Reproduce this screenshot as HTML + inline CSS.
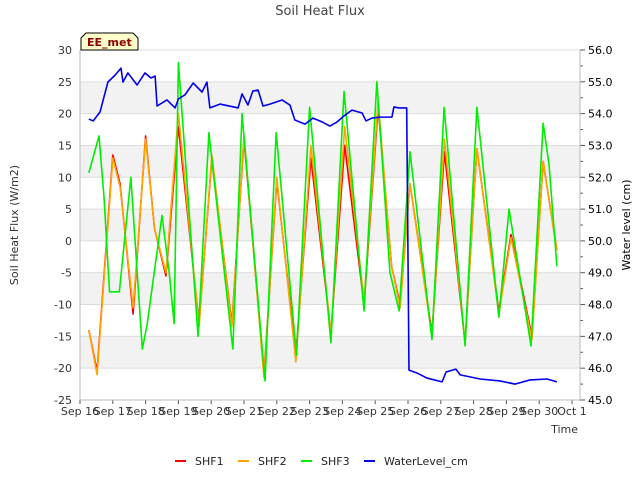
<!DOCTYPE html>
<html><head><meta charset="utf-8"><style>
body{margin:0;background:#fff;font-family:"DejaVu Sans","Liberation Sans",sans-serif;}
svg text{font-family:"DejaVu Sans","Liberation Sans",sans-serif;}
</style></head><body>
<svg id="chart" width="640" height="480" viewBox="0 0 640 480" xmlns="http://www.w3.org/2000/svg">
<text x="320" y="15" text-anchor="middle" font-size="13" fill="#444">Soil Heat Flux</text>
<g id="bands"></g>
<g id="axes"></g>
<g id="series"></g>
<g>
<path d="M81,50 L81,38 L86,33 L133,33 L138,38 L138,50 Z" fill="#ffffcc" stroke="#000" stroke-width="1"/>
<text x="87" y="46" font-size="11" font-weight="bold" fill="#8b0000">EE_met</text>
</g>
<text x="18" y="225" font-size="11" fill="#333" text-anchor="middle" transform="rotate(-90 18 225)">Soil Heat Flux (W/m2)</text>
<text x="630" y="225" font-size="11" fill="#000" text-anchor="middle" transform="rotate(-90 630 225)">Water level (cm)</text>
<text x="578" y="433" font-size="11" fill="#333" text-anchor="end">Time</text>
<g>
<g><line x1="175" y1="461" x2="186" y2="461" stroke="#f00" stroke-width="2"/><text x="195" y="465" font-size="11" fill="#222">SHF1</text></g>
<g><line x1="238" y1="461" x2="249" y2="461" stroke="#ffa500" stroke-width="2"/><text x="258" y="465" font-size="11" fill="#222">SHF2</text></g>
<g><line x1="301" y1="461" x2="312" y2="461" stroke="#00ee00" stroke-width="2"/><text x="321" y="465" font-size="11" fill="#222">SHF3</text></g>
<g><line x1="364" y1="461" x2="375" y2="461" stroke="#0000ee" stroke-width="2"/><text x="384" y="465" font-size="11" fill="#222">WaterLevel_cm</text></g>
</g>
</svg>
<script>
const xTickLabels=["Sep 16","Sep 17","Sep 18","Sep 19","Sep 20","Sep 21","Sep 22","Sep 23","Sep 24","Sep 25","Sep 26","Sep 27","Sep 28","Sep 29","Sep 30","Oct 1"];
const leftTicks=[-25,-20,-15,-10,-5,0,5,10,15,20,25,30];
const rightTicks=[45,46,47,48,49,50,51,52,53,54,55,56];
const shfTimes=[0.27,0.52,1.0,1.22,1.62,2.0,2.27,2.62,3.0,3.63,4.02,4.63,5.0,5.61,6.0,6.58,7.04,7.65,8.07,8.66,9.09,9.5,9.76,10.06,10.73,11.11,11.74,12.1,12.77,13.14,13.78,14.12,14.54];
const shf1=[-14,-20.5,13.5,9,-11.5,16.5,2,-5.5,18,-13,13,-13,16,-21,9.5,-18,13,-14.5,15,-10,21,-4,-10,9,-14.5,14,-16,14.5,-11,1,-15,12.5,-1.5];
const shf2=[-14,-21,13,8.5,-10.5,16,2,-5,20,-13.5,13.5,-13.5,16.5,-21.5,10,-19,15,-14.5,18,-9.5,22,-4,-10.5,9,-15,16,-16,14.5,-11.5,0.5,-15.5,12.5,-1.5];
const shf3Times=[0.27,0.58,0.73,0.9,1.2,1.55,1.9,2.05,2.5,2.72,2.87,3.0,3.6,3.93,4.66,4.94,5.64,5.98,6.6,7.0,7.65,8.05,8.66,9.05,9.45,9.73,10.06,10.73,11.1,11.74,12.1,12.77,13.08,13.75,14.12,14.3,14.54];
const shf3=[10.7,16.5,7,-8,-8,10,-17,-13,4,-5,-13,28,-15,17,-17,20,-22,17,-18,21,-16,23.5,-11,25,-5,-11,14,-15.5,21,-16.5,21,-12,5,-16.5,18.5,12,-4];
const wlTimes=[0.27,0.4,0.61,0.85,1.07,1.25,1.31,1.46,1.74,1.98,2.16,2.29,2.35,2.65,2.9,3.0,3.2,3.45,3.72,3.87,3.96,4.27,4.82,4.94,5.12,5.27,5.43,5.58,5.79,6.16,6.4,6.55,6.86,7.1,7.38,7.62,7.84,8.05,8.29,8.6,8.72,8.9,9.15,9.51,9.57,9.72,9.96,10.03,10.27,10.58,11.04,11.16,11.46,11.59,12.2,12.8,13.26,13.72,14.24,14.54];
const wl=[53.83,53.77,54.05,54.99,55.21,55.43,54.99,55.28,54.9,55.28,55.12,55.18,54.24,54.43,54.18,54.46,54.59,54.96,54.68,54.99,54.18,54.3,54.18,54.62,54.27,54.71,54.74,54.24,54.3,54.43,54.27,53.8,53.67,53.86,53.74,53.61,53.74,53.93,54.11,54.02,53.77,53.86,53.89,53.89,54.21,54.18,54.18,45.94,45.85,45.69,45.57,45.88,45.97,45.79,45.66,45.6,45.5,45.63,45.66,45.57];

const X0=80,X1=580,Y0=50,Y1=400,DAY=32.8;
const xs=t=>X0+t*DAY;
const yl=v=>Y0+(30-v)*(Y1-Y0)/55;
const yr=v=>Y0+(56-v)*(Y1-Y0)/11;
const NS="http://www.w3.org/2000/svg";
function mk(tag,attrs,parent){const e=document.createElementNS(NS,tag);for(const k in attrs)e.setAttribute(k,attrs[k]);parent.appendChild(e);return e;}
const bands=document.getElementById('bands'),axes=document.getElementById('axes'),series=document.getElementById('series');
for(const v of [25,15,5,-5,-15]){
 const r=mk('rect',{x:X0,y:yl(v),width:X1-X0,height:yl(v-5)-yl(v),fill:'#f2f2f2'},bands);
 
 
}
for(const v of leftTicks){
 const l=mk('line',{x1:X0,x2:X1,y1:yl(v),y2:yl(v),stroke:'#dcdcdc','stroke-width':1},bands);
 
 
 const t=mk('text',{x:X0-8,y:yl(v)+4,'font-size':11,fill:'#333','text-anchor':'end'},axes);t.textContent=v;
 
 
}
for(const v of rightTicks){
 mk('line',{x1:X1,x2:X1+5,y1:yr(v),y2:yr(v),stroke:'#555'},axes);
 if(v<56)mk('line',{x1:X1,x2:X1+3,y1:yr(v+0.5),y2:yr(v+0.5),stroke:'#555'},axes);
 const t=mk('text',{x:X1+8,y:yr(v)+4,'font-size':11,fill:'#000'},axes);t.textContent=v.toFixed(1);
 
 
}
xTickLabels.forEach((s,i)=>{
 mk('line',{x1:xs(i),x2:xs(i),y1:Y1,y2:Y1+4,stroke:'#555'},axes);
 const t=mk('text',{x:xs(i),y:Y1+15,'font-size':11,fill:'#333','text-anchor':'middle'},axes);t.textContent=s;
 
 
});
mk('line',{x1:X0,x2:X0,y1:Y0,y2:Y1,stroke:'#bbb'},axes);
mk('line',{x1:X1,x2:X1,y1:Y0,y2:Y1,stroke:'#bbb'},axes);
mk('line',{x1:X0,x2:X1,y1:Y1,y2:Y1,stroke:'#bbb'},axes);
function line(ts,vs,yf,color,name){
 const p=mk('polyline',{points:ts.map((t,i)=>xs(t)+','+yf(vs[i])).join(' '),fill:'none',stroke:color,'stroke-width':1.6,'stroke-linejoin':'round'},series);
 
 
}
line(shfTimes,shf1,yl,'#ff0000','shf1-line');
line(shfTimes,shf2,yl,'#ffa500','shf2-line');
line(shf3Times,shf3,yl,'#00ee00','shf3-line');
line(wlTimes,wl,yr,'#0000ee','waterlevel-line');
</script>
</body></html>
